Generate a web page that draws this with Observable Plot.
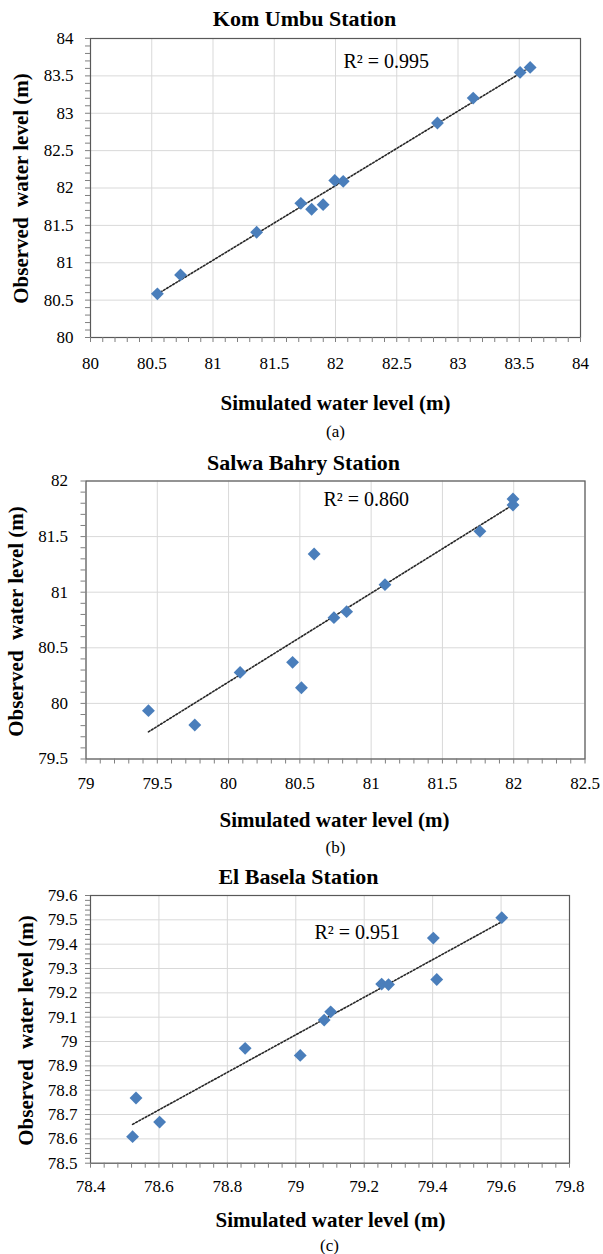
<!DOCTYPE html>
<html>
<head>
<meta charset="utf-8">
<script src="https://cdn.jsdelivr.net/npm/d3@7"></script>
<script src="https://cdn.jsdelivr.net/npm/@observablehq/plot@0.6"></script>
<style>
  html, body { margin: 0; padding: 0; background: #fff; }
  #root { width: 603px; height: 1254px; overflow: hidden; }
  #root svg { display: block; }
  #root svg text { font-family: "Liberation Serif", "Times New Roman", serif !important; }
</style>
</head>
<body>
<div id="root"></div>
<script>
// ---- Data ----
const kumSim = [80.546, 80.735, 81.356, 81.717, 81.805, 81.899, 81.994, 82.063, 82.832, 83.124, 83.507, 83.589];
const kumObs = [80.584, 80.837, 81.408, 81.795, 81.715, 81.777, 82.102, 82.089, 82.869, 83.203, 83.546, 83.613];
const kumXTicks = [80, 80.5, 81, 81.5, 82, 82.5, 83, 83.5, 84];
const kumYTicks = [80, 80.5, 81, 81.5, 82, 82.5, 83, 83.5, 84];

const salSim = [79.438, 79.763, 80.081, 80.449, 80.511, 80.600, 80.739, 80.828, 81.097, 81.763, 81.995, 81.995];
const salObs = [79.935, 79.806, 80.279, 80.369, 80.141, 81.344, 80.771, 80.825, 81.068, 81.547, 81.784, 81.838];
const salXTicks = [79, 79.5, 80, 80.5, 81, 81.5, 82, 82.5];
const salYTicks = [79.5, 80, 80.5, 81, 81.5, 82];

const basSim = [78.523, 78.533, 78.602, 78.852, 79.013, 79.083, 79.102, 79.251, 79.271, 79.402, 79.412, 79.602];
const basObs = [78.609, 78.768, 78.669, 78.972, 78.943, 79.088, 79.122, 79.236, 79.234, 79.425, 79.255, 79.509];
const basXTicks = [78.4, 78.6, 78.8, 79, 79.2, 79.4, 79.6, 79.8];
const basYTicks = [78.5, 78.6, 78.7, 78.8, 78.9, 79, 79.1, 79.2, 79.3, 79.4, 79.5, 79.6];

const titles = ["Kom Umbu Station", "Salwa Bahry Station", "El Basela Station"];
const r2Labels = ["R\u00b2 = 0.995", "R\u00b2 = 0.860", "R\u00b2 = 0.951"];
const captions = ["(a)", "(b)", "(c)"];
const xTitle = "Simulated water level (m)";
const yTitle = "Observed \u00a0water level (m)";

// ---- helpers ----
const FONT = "Liberation Serif, Times New Roman, serif";
function minorTicks(major) {
  const out = [];
  for (let i = 0; i < major.length - 1; i++) {
    const a = major[i], b = major[i + 1];
    for (let k = 0; k < 5; k++) out.push(+(a + (b - a) * k / 5).toFixed(4));
  }
  out.push(major[major.length - 1]);
  return out;
}

function panel(cfg) {
  const {sim, obs, xTicks, yTicks, height, mt, mr, mb, ml, title, r2, caption, pos} = cfg;
  const rows = sim.map((s, i) => ({s, o: obs[i]}));
  const lbl = (txt, X, Y, o = {}) =>
    Plot.text([txt], {frameAnchor: "top-left", dx: X - ml, dy: Y - mt, text: d => d, fill: "#000",
      lineAnchor: "middle", fontFamily: FONT, ...o});
  return Plot.plot({
    width: 603,
    height,
    marginTop: mt, marginRight: mr, marginBottom: mb, marginLeft: ml,
    style: {fontFamily: FONT, fontSize: "16px", background: "#fff", overflow: "visible"},
    x: {domain: [xTicks[0], xTicks[xTicks.length - 1]], nice: false},
    y: {domain: [yTicks[0], yTicks[yTicks.length - 1]], nice: false},
    marks: [
      Plot.gridX(xTicks, {stroke: "#d9d9d9", strokeOpacity: 1}),
      Plot.gridY(yTicks, {stroke: "#d9d9d9", strokeOpacity: 1}),
      Plot.frame({stroke: "#595959", strokeWidth: 1.2}),
      Plot.axisX(minorTicks(xTicks), {tickSize: 5, tickFormat: () => "", stroke: "#7f7f7f", label: null}),
      Plot.axisY(minorTicks(yTicks), {tickSize: 5, tickFormat: () => "", stroke: "#7f7f7f", label: null}),
      Plot.axisX(xTicks, {tickSize: 0, tickPadding: pos.xPad, tickFormat: d => String(d), fontSize: 17, label: null, fill: "#000", fontFamily: FONT}),
      Plot.axisY(yTicks, {tickSize: 0, tickPadding: pos.yPad, tickFormat: d => String(d), fontSize: 17, label: null, fill: "#000", fontFamily: FONT}),
      Plot.linearRegressionY(rows, {x: "s", y: "o", ci: 0, stroke: "#262626", strokeWidth: 1.6, strokeDasharray: "1.8,1.8"}),
      Plot.dot(rows, {x: "s", y: "o", symbol: "diamond2", r: 5.8, fill: "#4a7ebb", stroke: "none"}),
      lbl(title, pos.title[0], pos.title[1], {fontSize: 22, fontWeight: "bold", textAnchor: "middle"}),
      lbl(r2, pos.r2[0], pos.r2[1], {fontSize: 20, textAnchor: "start"}),
      lbl(xTitle, pos.xt[0], pos.xt[1], {fontSize: 21, fontWeight: "bold", textAnchor: "middle"}),
      lbl(caption, pos.cap[0], pos.cap[1], {fontSize: 17, textAnchor: "middle"}),
      lbl(yTitle, pos.yt[0], pos.yt[1], {fontSize: 21, fontWeight: "bold", textAnchor: "middle", rotate: -90})
    ]
  });
}

const root = document.getElementById("root");
root.appendChild(panel({
  sim: kumSim, obs: kumObs, xTicks: kumXTicks, yTicks: kumYTicks,
  height: 440, mt: 38, mr: 23, mb: 103, ml: 90,
  title: titles[0], r2: r2Labels[0], caption: captions[0],
  pos: {xPad: 19, yPad: 17, title: [304, 18], r2: [343, 61], xt: [335, 403], cap: [335, 431], yt: [21, 188]}
}));
root.appendChild(panel({
  sim: salSim, obs: salObs, xTicks: salXTicks, yTicks: salYTicks,
  height: 415, mt: 40.5, mr: 18.5, mb: 96.5, ml: 85.5,
  title: titles[1], r2: r2Labels[1], caption: captions[1],
  pos: {xPad: 18, yPad: 18, title: [303, 22], r2: [323, 59], xt: [334, 380], cap: [335, 407], yt: [16, 181]}
}));
root.appendChild(panel({
  sim: basSim, obs: basObs, xTicks: basXTicks, yTicks: basYTicks,
  height: 399, mt: 40, mr: 34, mb: 91.3, ml: 90,
  title: titles[2], r2: r2Labels[2], caption: captions[2],
  pos: {xPad: 17, yPad: 13, title: [298, 21], r2: [314, 77], xt: [330, 365], cap: [329, 390], yt: [26, 175]}
}));
</script>
</body>
</html>
